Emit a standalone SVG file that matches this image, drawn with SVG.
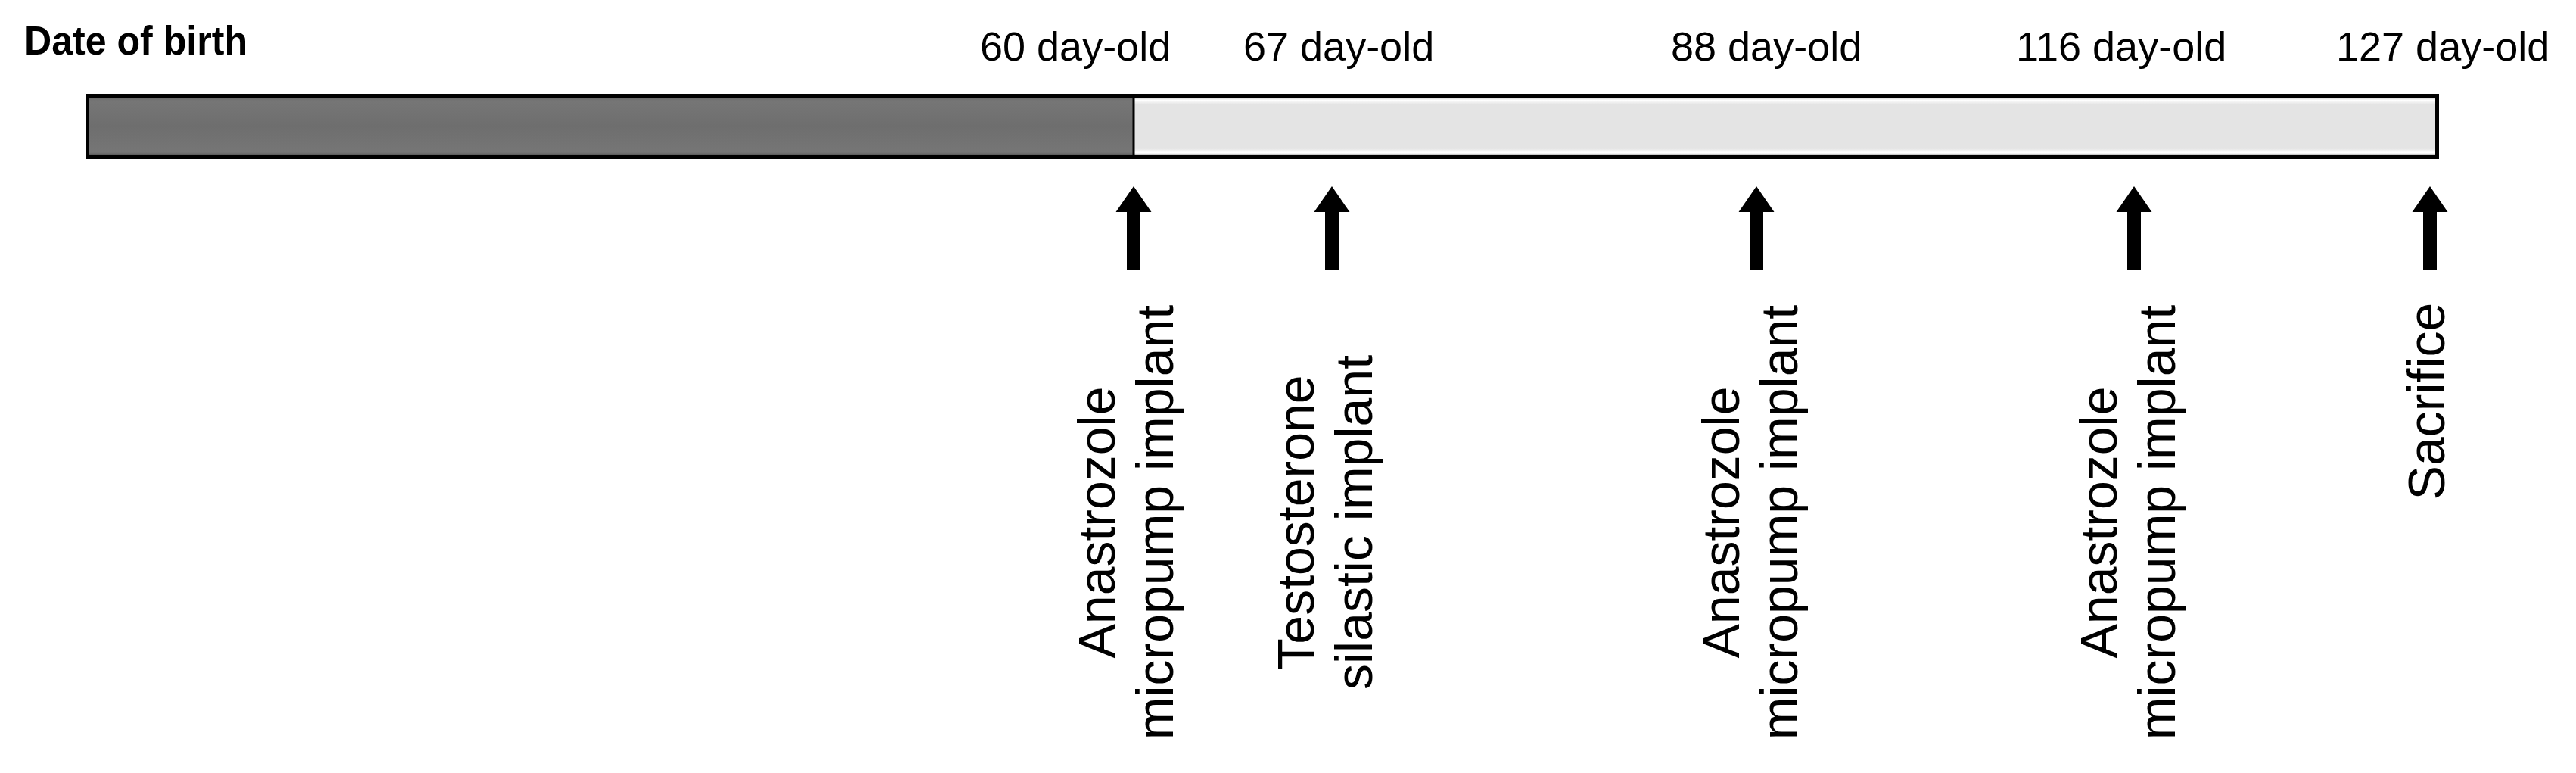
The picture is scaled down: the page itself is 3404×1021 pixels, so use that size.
<svg xmlns="http://www.w3.org/2000/svg" xmlns:xlink="http://www.w3.org/1999/xlink" width="3404" height="1021" viewBox="0 0 3404 1021">
  <style>
    .lbl { font-family: "Liberation Sans", Arial, sans-serif; font-size: 54px; fill: #000; }
    .title { font-family: "Liberation Sans", Arial, sans-serif; font-size: 53px; font-weight: bold; fill: #000; }
    .ev { font-family: "Liberation Sans", Arial, sans-serif; font-size: 68px; fill: #000; text-anchor: middle; }
    .arrow { fill: #000; }
  </style>
  <defs>
    <linearGradient id="lightFill" x1="0" y1="0" x2="0" y2="1">
      <stop offset="0" stop-color="#9a9a9a"/>
      <stop offset="0.07" stop-color="#ffffff"/>
      <stop offset="0.14" stop-color="#e4e4e4"/>
      <stop offset="0.86" stop-color="#e4e4e4"/>
      <stop offset="0.93" stop-color="#ffffff"/>
      <stop offset="1" stop-color="#8a8a8a"/>
    </linearGradient>
    <linearGradient id="darkFill" x1="0" y1="0" x2="0" y2="1">
      <stop offset="0" stop-color="#5a5a5a"/>
      <stop offset="0.08" stop-color="#767676"/>
      <stop offset="0.5" stop-color="#6e6e6e"/>
      <stop offset="0.92" stop-color="#767676"/>
      <stop offset="1" stop-color="#4a4a4a"/>
    </linearGradient>
    <path id="upArrow" d="M0,246 L23.5,280 L9,280 L9,356 L-9,356 L-9,280 L-23.5,280 Z"/>
  </defs>

  <rect width="3404" height="1021" fill="#ffffff"/>

  <g id="timeline">
    <rect x="115.5" y="126.5" width="1382.5" height="81" fill="url(#darkFill)"/>
    <rect x="1498" y="126.5" width="1722.5" height="81" fill="url(#lightFill)"/>
    <line x1="1498" y1="126" x2="1498" y2="208" stroke="#000" stroke-width="3"/>
    <rect x="115.5" y="126.5" width="3105" height="81" fill="none" stroke="#000" stroke-width="5"/>
  </g>

  <g id="date-labels">
    <text id="label-birth" class="title" x="32" y="72" textLength="295" lengthAdjust="spacingAndGlyphs">Date of birth</text>
    <text id="label-60" class="lbl" x="1295" y="80">60 day-old</text>
    <text id="label-67" class="lbl" x="1643" y="80">67 day-old</text>
    <text id="label-88" class="lbl" x="2208" y="80">88 day-old</text>
    <text id="label-116" class="lbl" x="2664" y="80">116 day-old</text>
    <text id="label-127" class="lbl" x="3087" y="80">127 day-old</text>
  </g>

  <g id="connectors" class="arrow">
    <use xlink:href="#upArrow" transform="translate(1498,0)"/>
    <use xlink:href="#upArrow" transform="translate(1760,0)"/>
    <use xlink:href="#upArrow" transform="translate(2321,0)"/>
    <use xlink:href="#upArrow" transform="translate(2820,0)"/>
    <use xlink:href="#upArrow" transform="translate(3211,0)"/>
  </g>

  <g id="event-60">
    <text class="ev" transform="translate(1473,690) rotate(-90)">Anastrozole</text>
    <text class="ev" transform="translate(1550,690) rotate(-90)">micropump implant</text>
  </g>
  <g id="event-67">
    <text class="ev" transform="translate(1736,690) rotate(-90)">Testosterone</text>
    <text class="ev" transform="translate(1813,690) rotate(-90)">silastic implant</text>
  </g>
  <g id="event-88">
    <text class="ev" transform="translate(2298,690) rotate(-90)">Anastrozole</text>
    <text class="ev" transform="translate(2375,690) rotate(-90)">micropump implant</text>
  </g>
  <g id="event-116">
    <text class="ev" transform="translate(2797,690) rotate(-90)">Anastrozole</text>
    <text class="ev" transform="translate(2874,690) rotate(-90)">micropump implant</text>
  </g>
  <g id="event-127">
    <text class="ev" transform="translate(3230,530) rotate(-90)">Sacrifice</text>
  </g>
</svg>
